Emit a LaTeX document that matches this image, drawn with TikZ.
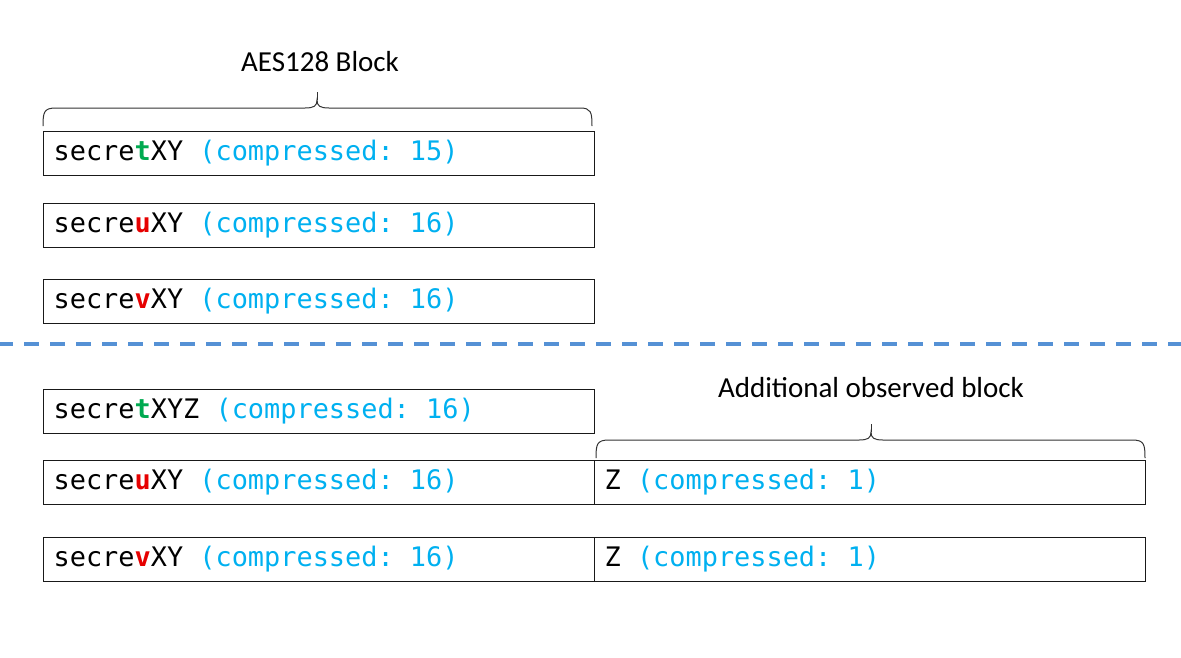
\documentclass[tikz,border=0pt]{standalone}
\usepackage{fontspec}
\setmainfont{Carlito}
\setmonofont{DejaVu Sans Mono}
\definecolor{tgreen}{RGB}{0,170,80}
\definecolor{ured}{RGB}{230,0,0}
\definecolor{cblue}{RGB}{0,176,240}
\definecolor{dashblue}{RGB}{85,145,213}
\newcommand\mspc{\hphantom{0}}
\begin{document}
\begin{tikzpicture}[x=1pt,y=-1pt,
  cell/.style={draw=black!90, line width=1.3pt, anchor=north west,
    minimum height=44pt, text width=531pt, inner xsep=10pt, inner ysep=0pt,
    align=left, font=\ttfamily\fontsize{26.9}{30}\selectfont,
    text height=19pt, text depth=5pt},
  lbl/.style={font=\fontsize{29}{32}\selectfont, inner sep=0pt},
  brace/.style={draw=black!80, line width=1pt},
  dashline/.style={draw=dashblue, line width=3.5pt, dash pattern=on 15pt off 11pt, dash phase=2pt}
]
\useasboundingbox (0,0) rectangle (1181,657);

% top group
\node[lbl] (aes) at (320,62) {AES128 Block};
\node[cell] (a1) at (43,131) {secre\textcolor{tgreen}{\textbf{t}}XY\mspc\textcolor{cblue}{(compressed:\mspc15)}};
\node[cell] (a2) at (43,203) {secre\textcolor{ured}{\textbf{u}}XY\mspc\textcolor{cblue}{(compressed:\mspc16)}};
\node[cell] (a3) at (43,279) {secre\textcolor{ured}{\textbf{v}}XY\mspc\textcolor{cblue}{(compressed:\mspc16)}};

\draw[brace] (43,126) .. controls (43,112) and (44,108) .. (56,108) -- (305,108)
  .. controls (314,108) and (317,106) .. (317,100)
  .. controls (317,106) and (320,108) .. (329,108) -- (580,108)
  .. controls (591,108) and (592,112) .. (592,126);
\draw[brace] (317,100) -- (317,92);

% separator
\draw[dashline] (0,344) -- (1181,344);

% bottom group
\node[lbl] (obs) at (871,388) {Additional observed block};
\node[cell] (b1) at (43,389) {secre\textcolor{tgreen}{\textbf{t}}XYZ\mspc\textcolor{cblue}{(compressed:\mspc16)}};
\node[cell] (b2) at (43,460) {secre\textcolor{ured}{\textbf{u}}XY\mspc\textcolor{cblue}{(compressed:\mspc16)}};
\node[cell] (b3) at (43,537) {secre\textcolor{ured}{\textbf{v}}XY\mspc\textcolor{cblue}{(compressed:\mspc16)}};
\node[cell] (c2) at (594,460) {Z\mspc\textcolor{cblue}{(compressed:\mspc1)}};
\node[cell] (c3) at (594,537) {Z\mspc\textcolor{cblue}{(compressed:\mspc1)}};

\draw[brace] (596,458) .. controls (596,444) and (597,440) .. (609,440) -- (859,440)
  .. controls (868,440) and (871,438) .. (871,432)
  .. controls (871,438) and (874,440) .. (883,440) -- (1132,440)
  .. controls (1144,440) and (1145,444) .. (1145,458);
\draw[brace] (871,432) -- (871,424);
\end{tikzpicture}
\end{document}
